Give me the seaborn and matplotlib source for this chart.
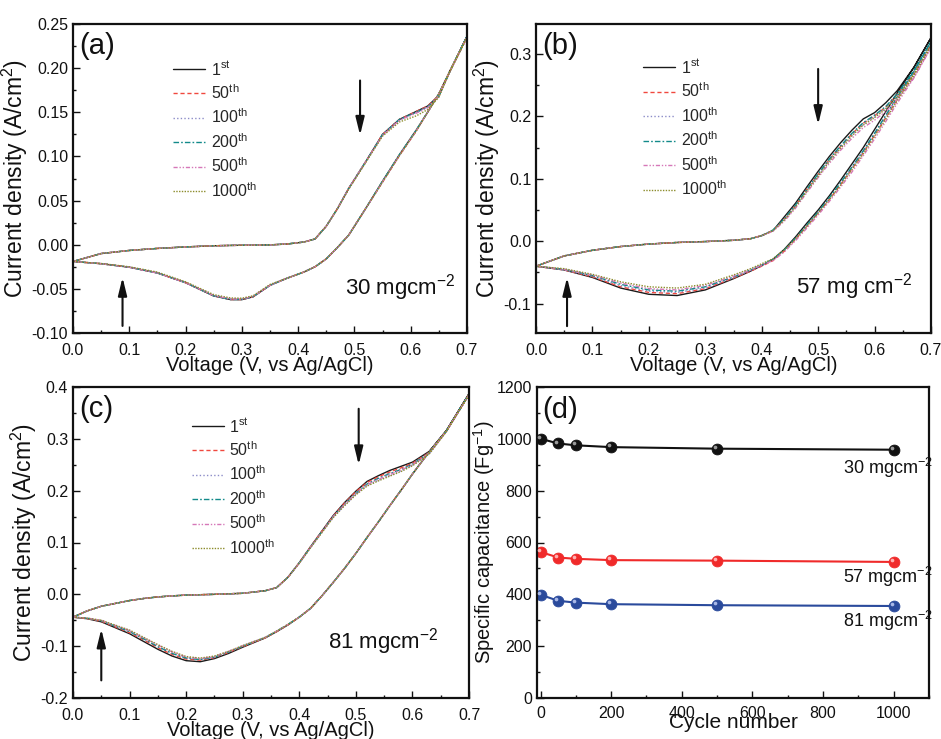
import matplotlib
matplotlib.use("Agg")
import matplotlib.pyplot as plt
import matplotlib.transforms as mtransforms
from matplotlib.lines import Line2D
from matplotlib.ticker import MultipleLocator, FormatStrFormatter
import pandas as pd
import seaborn as sns

# ---------------- data ----------------
cycle_labels = [r"1$^{\mathregular{st}}$", r"50$^{\mathregular{th}}$", r"100$^{\mathregular{th}}$",
                r"200$^{\mathregular{th}}$", r"500$^{\mathregular{th}}$", r"1000$^{\mathregular{th}}$"]

# panel (a) 30 mg cm-2
volt_a = [0.00, 0.05, 0.10, 0.15, 0.20, 0.25, 0.28, 0.30, 0.32, 0.35, 0.38, 0.41,
          0.43, 0.45, 0.47, 0.49, 0.52, 0.55, 0.58, 0.61, 0.63, 0.65, 0.67, 0.70]
a_up_1st = [-0.019, -0.010, -0.0065, -0.0042, -0.0025, -0.0012, -0.0008, -0.0006, -0.0005, -0.0002, 0.0008, 0.003,
            0.0065, 0.021, 0.041, 0.064, 0.094, 0.125, 0.142, 0.151, 0.157, 0.169, 0.197, 0.236]
a_up_50th = [-0.019, -0.010, -0.0065, -0.0042, -0.0025, -0.0012, -0.0008, -0.0006, -0.0005, -0.0002, 0.0008, 0.003,
             0.0065, 0.021, 0.041, 0.064, 0.094, 0.125, 0.142, 0.151, 0.157, 0.169, 0.197, 0.235]
a_up_100th = [-0.019, -0.010, -0.0065, -0.0042, -0.0025, -0.0012, -0.0008, -0.0006, -0.0005, -0.0002, 0.0008, 0.003,
              0.0065, 0.021, 0.041, 0.064, 0.094, 0.124, 0.141, 0.150, 0.156, 0.168, 0.197, 0.235]
a_up_200th = [-0.019, -0.010, -0.0065, -0.0042, -0.0025, -0.0012, -0.0008, -0.0006, -0.0005, -0.0002, 0.0008, 0.003,
              0.0065, 0.021, 0.041, 0.064, 0.094, 0.125, 0.142, 0.150, 0.156, 0.168, 0.197, 0.236]
a_up_500th = [-0.019, -0.010, -0.0065, -0.0042, -0.0025, -0.0012, -0.0008, -0.0006, -0.0005, -0.0002, 0.0008, 0.003,
              0.0065, 0.021, 0.041, 0.064, 0.094, 0.124, 0.141, 0.149, 0.155, 0.168, 0.197, 0.235]
a_up_1000th = [-0.019, -0.010, -0.0065, -0.0042, -0.0025, -0.0012, -0.0008, -0.0006, -0.0005, -0.0002, 0.0008, 0.003,
               0.0065, 0.021, 0.041, 0.063, 0.093, 0.123, 0.139, 0.146, 0.153, 0.167, 0.197, 0.235]
a_lo_1st = [-0.019, -0.0215, -0.0255, -0.032, -0.043, -0.058, -0.0622, -0.0622, -0.0590, -0.046, -0.038, -0.031,
            -0.025, -0.016, -0.003, 0.011, 0.041, 0.072, 0.102, 0.130, 0.150, 0.171, 0.197, 0.236]
a_lo_50th = [-0.019, -0.0215, -0.0255, -0.032, -0.043, -0.058, -0.0620, -0.0621, -0.0589, -0.046, -0.038, -0.031,
             -0.025, -0.016, -0.003, 0.011, 0.041, 0.071, 0.101, 0.129, 0.150, 0.171, 0.197, 0.235]
a_lo_100th = [-0.019, -0.0215, -0.0255, -0.032, -0.043, -0.0575, -0.0615, -0.0617, -0.0586, -0.046, -0.038, -0.031,
              -0.025, -0.016, -0.003, 0.011, 0.041, 0.072, 0.102, 0.130, 0.150, 0.171, 0.197, 0.235]
a_lo_200th = [-0.019, -0.0215, -0.0255, -0.032, -0.043, -0.058, -0.0620, -0.0620, -0.0588, -0.046, -0.038, -0.031,
              -0.025, -0.016, -0.003, 0.011, 0.041, 0.072, 0.102, 0.130, 0.150, 0.171, 0.197, 0.236]
a_lo_500th = [-0.019, -0.0215, -0.0255, -0.032, -0.043, -0.0575, -0.0615, -0.0616, -0.0585, -0.046, -0.038, -0.031,
              -0.025, -0.016, -0.003, 0.011, 0.041, 0.071, 0.101, 0.129, 0.150, 0.171, 0.197, 0.235]
a_lo_1000th = [-0.019, -0.0213, -0.0250, -0.031, -0.042, -0.0565, -0.0603, -0.0606, -0.0578, -0.045, -0.038, -0.031,
               -0.025, -0.016, -0.003, 0.011, 0.041, 0.071, 0.101, 0.129, 0.150, 0.171, 0.197, 0.235]

# panel (b) 57 mg cm-2
volt_b = [0.00, 0.05, 0.10, 0.15, 0.20, 0.25, 0.30, 0.35, 0.38, 0.40, 0.42, 0.44,
          0.46, 0.48, 0.50, 0.52, 0.54, 0.56, 0.58, 0.60, 0.62, 0.64, 0.67, 0.70]
b_up_1st = [-0.040, -0.0235, -0.0145, -0.0085, -0.0045, -0.002, -0.0005, 0.0015, 0.004, 0.009, 0.017, 0.039,
            0.061, 0.087, 0.112, 0.136, 0.158, 0.178, 0.196, 0.206, 0.222, 0.241, 0.279, 0.326]
b_up_50th = [-0.040, -0.0235, -0.0145, -0.0085, -0.0045, -0.002, -0.0005, 0.0015, 0.004, 0.009, 0.017, 0.035,
             0.057, 0.083, 0.107, 0.131, 0.152, 0.172, 0.189, 0.201, 0.215, 0.235, 0.272, 0.318]
b_up_100th = [-0.040, -0.0235, -0.0145, -0.0085, -0.0045, -0.002, -0.0005, 0.0015, 0.004, 0.009, 0.017, 0.034,
              0.056, 0.081, 0.105, 0.129, 0.150, 0.170, 0.187, 0.199, 0.213, 0.233, 0.270, 0.316]
b_up_200th = [-0.040, -0.0235, -0.0145, -0.0085, -0.0045, -0.002, -0.0005, 0.0015, 0.004, 0.009, 0.018, 0.036,
              0.058, 0.083, 0.108, 0.132, 0.153, 0.173, 0.190, 0.202, 0.216, 0.236, 0.274, 0.320]
b_up_500th = [-0.040, -0.0235, -0.0145, -0.0085, -0.0045, -0.002, -0.0005, 0.0015, 0.004, 0.009, 0.016, 0.032,
              0.053, 0.078, 0.102, 0.125, 0.146, 0.165, 0.182, 0.194, 0.208, 0.227, 0.263, 0.310]
b_up_1000th = [-0.040, -0.0235, -0.0145, -0.0085, -0.0045, -0.002, -0.0005, 0.0015, 0.004, 0.009, 0.017, 0.034,
               0.055, 0.080, 0.104, 0.128, 0.149, 0.169, 0.186, 0.198, 0.212, 0.231, 0.268, 0.314]
b_lo_1st = [-0.040, -0.046, -0.058, -0.075, -0.085, -0.087, -0.078, -0.060, -0.048, -0.039, -0.029, -0.013,
            0.007, 0.029, 0.050, 0.073, 0.098, 0.124, 0.150, 0.179, 0.208, 0.237, 0.279, 0.326]
b_lo_50th = [-0.040, -0.046, -0.057, -0.073, -0.082, -0.084, -0.076, -0.059, -0.048, -0.040, -0.031, -0.016,
             0.003, 0.024, 0.045, 0.067, 0.091, 0.116, 0.142, 0.170, 0.198, 0.227, 0.269, 0.318]
b_lo_100th = [-0.040, -0.046, -0.056, -0.071, -0.080, -0.082, -0.075, -0.058, -0.047, -0.039, -0.030, -0.015,
              0.004, 0.025, 0.046, 0.069, 0.093, 0.118, 0.144, 0.172, 0.200, 0.229, 0.271, 0.316]
b_lo_200th = [-0.040, -0.045, -0.055, -0.069, -0.078, -0.080, -0.073, -0.057, -0.046, -0.038, -0.029, -0.014,
              0.005, 0.026, 0.047, 0.070, 0.094, 0.119, 0.145, 0.173, 0.202, 0.231, 0.273, 0.320]
b_lo_500th = [-0.040, -0.045, -0.054, -0.067, -0.076, -0.078, -0.071, -0.056, -0.046, -0.038, -0.031, -0.017,
              0.001, 0.021, 0.042, 0.064, 0.087, 0.111, 0.137, 0.164, 0.192, 0.221, 0.262, 0.310]
b_lo_1000th = [-0.040, -0.044, -0.053, -0.065, -0.073, -0.075, -0.069, -0.054, -0.044, -0.036, -0.028, -0.014,
               0.004, 0.024, 0.045, 0.067, 0.090, 0.115, 0.140, 0.168, 0.196, 0.225, 0.266, 0.314]

# panel (c) 81 mg cm-2
volt_c = [0.00, 0.025, 0.05, 0.10, 0.125, 0.15, 0.175, 0.20, 0.225, 0.25, 0.275, 0.30, 0.34, 0.36, 0.38,
          0.40, 0.42, 0.44, 0.46, 0.48, 0.50, 0.52, 0.54, 0.56, 0.58, 0.60, 0.63, 0.66, 0.70]
c_up_1st = [-0.044, -0.032, -0.023, -0.012, -0.008, -0.005, -0.003, -0.0015, -0.0007, 0.0, 0.001, 0.002, 0.007, 0.013, 0.033,
            0.061, 0.092, 0.122, 0.152, 0.177, 0.199, 0.218, 0.229, 0.239, 0.247, 0.255, 0.276, 0.316, 0.387]
c_up_50th = [-0.044, -0.032, -0.023, -0.012, -0.008, -0.005, -0.003, -0.0015, -0.0007, 0.0, 0.001, 0.002, 0.007, 0.013, 0.033,
             0.061, 0.092, 0.122, 0.151, 0.176, 0.198, 0.216, 0.227, 0.236, 0.244, 0.253, 0.274, 0.315, 0.386]
c_up_100th = [-0.044, -0.032, -0.023, -0.012, -0.008, -0.005, -0.003, -0.0015, -0.0007, 0.0, 0.001, 0.002, 0.007, 0.013, 0.033,
              0.060, 0.090, 0.120, 0.149, 0.172, 0.193, 0.210, 0.220, 0.229, 0.238, 0.249, 0.272, 0.314, 0.385]
c_up_200th = [-0.044, -0.032, -0.023, -0.012, -0.008, -0.005, -0.003, -0.0015, -0.0007, 0.0, 0.001, 0.002, 0.007, 0.013, 0.033,
              0.061, 0.091, 0.121, 0.150, 0.174, 0.195, 0.213, 0.224, 0.233, 0.241, 0.251, 0.273, 0.315, 0.386]
c_up_500th = [-0.044, -0.032, -0.023, -0.012, -0.008, -0.005, -0.003, -0.0015, -0.0007, 0.0, 0.001, 0.002, 0.007, 0.013, 0.033,
              0.060, 0.091, 0.120, 0.150, 0.173, 0.194, 0.212, 0.222, 0.231, 0.240, 0.250, 0.272, 0.314, 0.385]
c_up_1000th = [-0.044, -0.032, -0.023, -0.012, -0.008, -0.005, -0.003, -0.0015, -0.0007, 0.0, 0.001, 0.002, 0.007, 0.013, 0.033,
               0.060, 0.090, 0.119, 0.148, 0.171, 0.192, 0.209, 0.219, 0.228, 0.237, 0.248, 0.271, 0.314, 0.385]
c_lo_1st = [-0.044, -0.047, -0.053, -0.076, -0.091, -0.106, -0.119, -0.128, -0.130, -0.124, -0.114, -0.102, -0.084, -0.072, -0.059,
            -0.044, -0.027, -0.003, 0.023, 0.050, 0.079, 0.110, 0.140, 0.171, 0.201, 0.232, 0.276, 0.316, 0.387]
c_lo_50th = [-0.044, -0.047, -0.052, -0.074, -0.088, -0.103, -0.116, -0.125, -0.127, -0.122, -0.112, -0.101, -0.084, -0.072, -0.059,
             -0.044, -0.027, -0.003, 0.023, 0.050, 0.079, 0.110, 0.140, 0.171, 0.201, 0.232, 0.275, 0.315, 0.386]
c_lo_100th = [-0.044, -0.046, -0.051, -0.071, -0.085, -0.100, -0.113, -0.122, -0.125, -0.121, -0.111, -0.100, -0.083, -0.071, -0.058,
              -0.044, -0.027, -0.003, 0.023, 0.050, 0.079, 0.110, 0.140, 0.171, 0.201, 0.232, 0.275, 0.315, 0.385]
c_lo_200th = [-0.044, -0.046, -0.051, -0.072, -0.086, -0.101, -0.114, -0.123, -0.126, -0.121, -0.111, -0.100, -0.083, -0.071, -0.058,
              -0.044, -0.027, -0.003, 0.023, 0.050, 0.079, 0.110, 0.140, 0.171, 0.201, 0.232, 0.275, 0.315, 0.386]
c_lo_500th = [-0.044, -0.046, -0.050, -0.070, -0.084, -0.098, -0.111, -0.121, -0.124, -0.120, -0.110, -0.099, -0.083, -0.071, -0.058,
              -0.044, -0.027, -0.003, 0.023, 0.050, 0.079, 0.110, 0.140, 0.171, 0.201, 0.232, 0.275, 0.315, 0.385]
c_lo_1000th = [-0.044, -0.046, -0.050, -0.069, -0.083, -0.097, -0.110, -0.120, -0.123, -0.119, -0.110, -0.099, -0.083, -0.071, -0.058,
               -0.044, -0.027, -0.003, 0.023, 0.050, 0.079, 0.110, 0.140, 0.171, 0.201, 0.232, 0.275, 0.315, 0.385]

# panel (d) specific capacitance vs cycle number
cycle_number = [1, 50, 100, 200, 500, 1000]
cap_30 = [1000, 982, 975, 968, 962, 958]
cap_57 = [563, 542, 537, 532, 530, 525]
cap_81 = [398, 375, 368, 362, 358, 355]
loading_labels = [r"30 mgcm$^{\mathregular{-2}}$", r"57 mgcm$^{\mathregular{-2}}$", r"81 mgcm$^{\mathregular{-2}}$"]

# ---------------- style ----------------
sns.set_theme(style="ticks")
plt.rcParams["font.family"] = ["Liberation Sans", "DejaVu Sans"]
plt.rcParams["mathtext.fontset"] = "custom"
plt.rcParams["mathtext.rm"] = "Liberation Sans"
plt.rcParams["mathtext.it"] = "Liberation Sans:italic"
plt.rcParams["mathtext.bf"] = "Liberation Sans:bold"
plt.rcParams["axes.unicode_minus"] = False

cyc_colors = ["#1a1a1a", "#f0483e", "#8c8cc8", "#138a8a", "#d678b8", "#8c8c2c"]
cyc_styles = ["-", (0, (3.0, 2.0)), (0, (1.0, 1.6)), (0, (4.0, 1.5, 1.2, 1.5)),
              (0, (3.0, 1.3, 1.0, 1.3, 1.0, 1.3)), (0, (1.0, 1.0))]

W, H = 941, 739
fig = plt.figure(figsize=(W / 100, H / 100), dpi=100)
fig.patch.set_facecolor("white")


def add_ax(x0, y0, x1, y1):
    return fig.add_axes([x0 / W, 1 - y1 / H, (x1 - x0) / W, (y1 - y0) / H])


ax_a = add_ax(73, 24, 467, 333)
ax_b = add_ax(536, 24, 931, 333)
ax_c = add_ax(73, 387, 469, 698)
ax_d = add_ax(537, 387, 929, 698)


def style_axes(ax, xpad=7):
    ax.set_facecolor("white")
    ax.tick_params(which="both", direction="in", top=False, right=False,
                   labelsize=11.5, width=1.0, colors="#111111")
    ax.tick_params(axis="x", which="both", pad=xpad)
    ax.tick_params(axis="y", which="both", pad=3.5)
    ax.tick_params(which="major", length=5)
    ax.tick_params(which="minor", length=2.5)
    for s in ax.spines.values():
        s.set_visible(True)
        s.set_linewidth(1.6)
        s.set_color("#111111")


def draw_cv(ax, volts, ups, los):
    for up, lo, col, ls in zip(ups, los, cyc_colors, cyc_styles):
        df = pd.DataFrame({"V": list(volts) + list(volts)[::-1],
                           "I": list(up) + list(lo)[::-1]})
        sns.lineplot(data=df, x="V", y="I", sort=False, estimator=None, ax=ax,
                     color=col, linestyle=ls, linewidth=1.0, legend=False)


def cv_legend(ax, anchor):
    handles = [Line2D([], [], color=c, linestyle=s, linewidth=1.0) for c, s in zip(cyc_colors, cyc_styles)]
    ax.legend(handles, cycle_labels, loc="upper left", bbox_to_anchor=anchor, frameon=False,
              fontsize=11.5, handlelength=2.0, handletextpad=0.35, labelspacing=0.36,
              borderpad=0, borderaxespad=0)


def arrow(ax, x, y_from, y_to):
    ax.annotate("", xy=(x, y_to), xytext=(x, y_from),
                arrowprops=dict(arrowstyle="-|>,head_length=0.9,head_width=0.22",
                                color="#111111", lw=1.5, shrinkA=0, shrinkB=0))


def cv_common(ax, ylim, major, minor, fmt, letter, note, note_xy):
    ax.set_xlim(0, 0.7)
    ax.set_ylim(*ylim)
    ax.xaxis.set_major_locator(MultipleLocator(0.1))
    ax.xaxis.set_minor_locator(MultipleLocator(0.05))
    ax.xaxis.set_major_formatter(FormatStrFormatter("%.1f"))
    ax.yaxis.set_major_locator(MultipleLocator(major))
    ax.yaxis.set_minor_locator(MultipleLocator(minor))
    ax.yaxis.set_major_formatter(FormatStrFormatter(fmt))
    ax.set_xlabel("Voltage (V, vs Ag/AgCl)", fontsize=14.5, labelpad=-1, color="#111111")
    ax.set_ylabel(r"Current density (A/cm$^{\mathregular{2}}$)", fontsize=16.5, labelpad=1, color="#111111")
    ax.text(0.015, 0.93, letter, transform=ax.transAxes, fontsize=21, va="center", ha="left", color="#111111")
    ax.text(note_xy[0], note_xy[1], note, transform=ax.transAxes, fontsize=16, va="center", ha="left", color="#111111")
    style_axes(ax)


# (a)
draw_cv(ax_a, volt_a, [a_up_1st, a_up_50th, a_up_100th, a_up_200th, a_up_500th, a_up_1000th],
        [a_lo_1st, a_lo_50th, a_lo_100th, a_lo_200th, a_lo_500th, a_lo_1000th])
cv_common(ax_a, (-0.10, 0.25), 0.05, 0.025, "%.2f", "(a)", r"30 mgcm$^{\mathregular{-2}}$", (0.69, 0.146))
cv_legend(ax_a, (0.254, 0.885))
arrow(ax_a, 0.51, 0.186, 0.124)
arrow(ax_a, 0.088, -0.092, -0.037)

# (b)
draw_cv(ax_b, volt_b, [b_up_1st, b_up_50th, b_up_100th, b_up_200th, b_up_500th, b_up_1000th],
        [b_lo_1st, b_lo_50th, b_lo_100th, b_lo_200th, b_lo_500th, b_lo_1000th])
cv_common(ax_b, (-0.147, 0.348), 0.1, 0.05, "%.1f", "(b)", r"57 mg cm$^{\mathregular{-2}}$", (0.658, 0.149))
cv_legend(ax_b, (0.271, 0.89))
arrow(ax_b, 0.50, 0.276, 0.187)
arrow(ax_b, 0.055, -0.136, -0.058)

# (c)
draw_cv(ax_c, volt_c, [c_up_1st, c_up_50th, c_up_100th, c_up_200th, c_up_500th, c_up_1000th],
        [c_lo_1st, c_lo_50th, c_lo_100th, c_lo_200th, c_lo_500th, c_lo_1000th])
cv_common(ax_c, (-0.2, 0.4), 0.1, 0.05, "%.1f", "(c)", r"81 mgcm$^{\mathregular{-2}}$", (0.644, 0.18))
cv_legend(ax_c, (0.30, 0.905))
arrow(ax_c, 0.505, 0.358, 0.25)
arrow(ax_c, 0.05, -0.166, -0.067)

# (d)
d_colors = ["#111111", "#f02a2a", "#2a4a9c"]
d_light = ["#9a9a9a", "#ffb0b0", "#a8b8e8"]
d_text_y = [0.74, 0.389, 0.248]
hl = mtransforms.ScaledTranslation(-1.4 / 72, 1.4 / 72, fig.dpi_scale_trans)
for vals, col, lcol, lab, ty in zip([cap_30, cap_57, cap_81], d_colors, d_light, loading_labels, d_text_y):
    df = pd.DataFrame({"cycle": cycle_number, "cap": vals})
    sns.lineplot(data=df, x="cycle", y="cap", ax=ax_d, color=col, linewidth=1.5,
                 marker="o", markersize=7.8, markeredgecolor=col, markeredgewidth=0.6, legend=False)
    ax_d.scatter(df["cycle"], df["cap"], s=7, color=lcol, zorder=5, linewidths=0,
                 transform=ax_d.transData + hl)
    ax_d.text(0.78, ty, lab, transform=ax_d.transAxes, fontsize=13, va="center", ha="left", color="#111111")

ax_d.set_xlim(-10, 1100)
ax_d.set_ylim(0, 1200)
ax_d.set_xticks([0, 200, 400, 600, 800, 1000])
ax_d.xaxis.set_minor_locator(MultipleLocator(100))
ax_d.yaxis.set_major_locator(MultipleLocator(200))
ax_d.yaxis.set_minor_locator(MultipleLocator(100))
ax_d.set_xlabel("Cycle number", fontsize=15, labelpad=-6, color="#111111")
ax_d.set_ylabel(r"Specific capacitance (Fg$^{\mathregular{-1}}$)", fontsize=14.5, labelpad=0, color="#111111")
ax_d.text(0.013, 0.926, "(d)", transform=ax_d.transAxes, fontsize=21, va="center", ha="left", color="#111111")
style_axes(ax_d, xpad=6)

fig.savefig("out.png", dpi=100, facecolor="white")
